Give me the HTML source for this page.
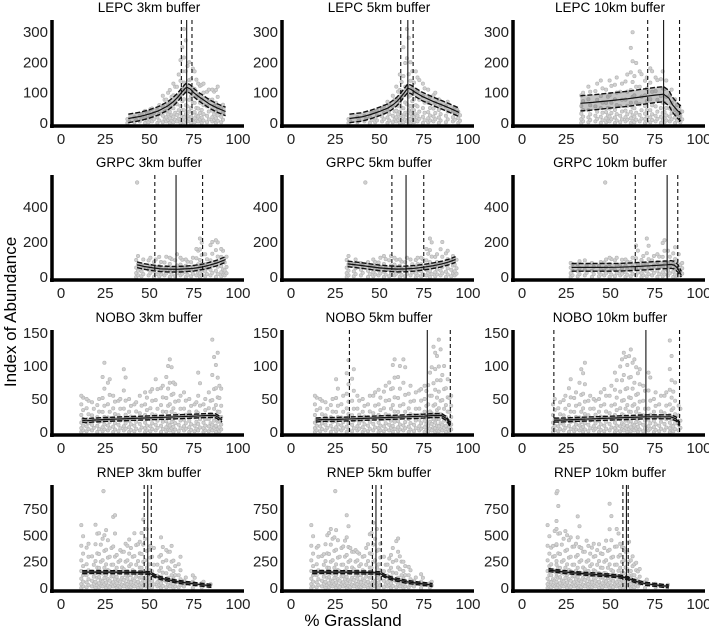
<!DOCTYPE html>
<html><head><meta charset="utf-8">
<style>
html,body{margin:0;padding:0;background:#fff;}
svg{display:block;font-family:"Liberation Sans",Arial,sans-serif;}
</style></head>
<body>
<svg id="chart" width="709" height="634" viewBox="0 0 709 634">
<text x="16" y="312" font-size="17" text-anchor="middle" transform="rotate(-90 16 312)">Index of Abundance</text>
<text x="353" y="626" font-size="17" text-anchor="middle">% Grassland</text>
</svg>
<script>
// ---- data ----
const species = ["LEPC","GRPC","NOBO","RNEP"];
const buffers = ["3km","5km","10km"];
const yTicks = [[0,100,200,300],[0,200,400],[0,50,100,150],[0,250,500,750]];
const xTicks = [0,25,50,75,100];
// point cloud extents: [x, upper y]
const clouds = [
 [[38,15],[42,20],[45,30],[48,40],[50,45],[52,50],[55,60],[58,90],[60,100],[62,110],[64,130],[66,160],[68,250],[70,310],[72,200],[74,180],[76,170],[78,130],[80,130],[83,110],[86,110],[88,120],[91,60]],
 [[33,15],[38,20],[42,25],[45,35],[48,40],[52,55],[55,70],[58,90],[60,120],[62,160],[64,250],[66,310],[68,200],[70,170],[72,150],[75,130],[78,110],[81,100],[84,80],[88,70],[92,50],[95,40]],
 [[34,100],[38,120],[42,130],[45,140],[48,110],[50,140],[53,150],[56,130],[59,160],[62,300],[64,200],[67,170],[70,150],[73,180],[76,150],[79,170],[81,140],[84,110],[87,80],[90,40]],
 [[43,120],[46,100],[50,110],[53,100],[56,120],[59,120],[62,110],[65,130],[68,110],[71,100],[74,110],[77,160],[79,220],[82,130],[85,200],[88,210],[91,160],[93,120]],
 [[32,120],[36,100],[40,80],[44,90],[47,100],[50,110],[53,120],[56,120],[59,110],[62,100],[65,110],[68,100],[71,110],[74,110],[77,160],[79,220],[82,130],[85,200],[88,150],[91,120],[93,100]],
 [[28,80],[32,90],[36,100],[40,80],[44,90],[47,100],[50,110],[53,110],[56,100],[59,100],[62,110],[65,180],[68,120],[71,220],[74,120],[77,130],[80,210],[83,150],[86,170],[88,130],[90,80]],
 [[12,55],[15,50],[18,45],[21,50],[24,105],[27,80],[30,55],[33,50],[36,95],[39,50],[42,45],[45,55],[48,60],[51,65],[54,80],[57,70],[60,100],[62,110],[64,75],[67,55],[70,60],[73,50],[76,45],[78,90],[81,50],[84,60],[86,140],[88,120],[90,70]],
 [[14,55],[17,50],[20,45],[23,50],[26,80],[29,55],[32,110],[35,95],[38,55],[41,50],[44,55],[47,60],[50,65],[53,70],[56,75],[58,110],[61,100],[64,110],[67,70],[70,60],[73,65],[76,70],[78,90],[80,130],[82,120],[84,140],[86,100],[88,80],[90,55]],
 [[18,50],[21,45],[24,55],[27,80],[30,60],[33,95],[35,105],[38,55],[41,50],[44,60],[47,65],[50,70],[53,90],[56,110],[58,120],[60,115],[62,125],[64,110],[66,95],[69,70],[72,90],[75,60],[78,55],[81,60],[84,140],[86,75],[89,40]],
 [[12,600],[15,420],[18,300],[20,600],[22,520],[24,500],[26,550],[28,380],[30,690],[32,320],[34,360],[36,420],[38,460],[40,380],[42,520],[44,440],[46,650],[48,560],[50,400],[52,380],[55,300],[57,480],[60,360],[62,400],[64,260],[67,300],[70,100],[75,120],[80,60],[84,40]],
 [[12,600],[15,400],[18,320],[20,500],[22,560],[24,480],[26,550],[28,380],[30,450],[32,690],[34,380],[36,360],[38,340],[40,300],[42,380],[44,510],[46,620],[48,560],[50,420],[53,300],[55,280],[57,380],[60,470],[62,300],[64,250],[67,200],[70,100],[74,130],[79,60]],
 [[15,600],[17,400],[19,560],[20,900],[22,520],[24,540],[26,500],[28,480],[30,420],[32,680],[34,380],[36,450],[38,400],[40,420],[42,360],[44,420],[46,380],[48,450],[50,800],[52,400],[54,560],[56,420],[58,380],[60,440],[62,300],[64,240],[66,180],[70,80],[76,40],[82,30]]
];
// fitted curve: x values and fit values
const fitX = [
 [38,45,50,55,60,63,66,68,70,71,73,75,78,80,84,88,93],
 [33,40,45,50,55,58,60,62,64,66,68,70,74,80,86,90,95],
 [33,40,50,60,65,70,75,80,83,85,88,90],
 [43,47,52,56,60,65,70,75,80,84,88,93],
 [32,38,44,50,55,60,65,70,75,80,85,89,93],
 [28,35,45,55,65,72,78,82,84,86,88,90],
 [12,14,18,25,35,45,55,65,75,83,87,89,91],
 [14,18,25,35,45,55,65,75,80,85,88,90],
 [18,22,30,40,50,60,70,80,84,87,89],
 [12,20,30,40,45,48,50,53,56,60,65,70,75,80,85],
 [12,20,30,40,45,48,50,53,56,60,65,70,75,80],
 [15,20,25,30,40,50,55,58,60,63,66,70,75,80,83]
];
const fitY = [
 [15,22,30,40,55,68,85,100,113,118,112,100,86,78,62,50,38],
 [15,20,28,38,50,62,72,85,100,115,110,102,88,72,58,48,35],
 [65,68,74,80,84,88,92,95,82,60,40,30],
 [70,60,52,47,45,44,46,50,58,68,80,100],
 [75,68,60,52,48,45,46,50,56,64,74,85,100],
 [55,55,55,56,60,64,68,70,72,68,50,10],
 [18,17,18,19,20,21,22,23,24,25,25,22,18],
 [18,19,19,20,21,22,23,24,25,25,20,10],
 [18,18,19,20,21,22,23,23,23,20,12],
 [150,152,150,148,146,145,140,115,95,80,62,50,40,30,20],
 [150,152,150,148,146,145,140,115,95,78,60,48,38,28],
 [170,160,150,142,130,118,110,100,90,70,55,40,30,20,15]
];
const bandHalf = [14,14,25,16,16,22,3,3,3,14,14,14];
const threshold = [71,66,80,65,65,82,null,77,70,49,48,59];
const ciLow = [68,62,71,53,57,64,null,33,18,47,46,57];
const ciHigh = [74,69,89,80,75,88,null,90,89,51,51,60];
const outliers = [[],[],[],[[43,540]],[[42,540]],[[47,540]],[],[],[],[[24,920]],[[25,920]],[[20,920]]];

// ---- layout ----
const svg = document.getElementById('chart');
const NS = 'http://www.w3.org/2000/svg';
const zeroY = [123,277,432,588];
const topY = [20,175,330,485];
const colX0 = [61,291,522];
const XS = 1.77;
const tickPx = [91/300, 70/400, 99/150, 79/750];
function mk(tag, attrs, parent){const e=document.createElementNS(NS,tag);for(const k in attrs)e.setAttribute(k,attrs[k]);(parent||svg).appendChild(e);return e;}
function pathFrom(xs, ys, sx, sy){return xs.map((x,i)=>(i?'L':'M')+sx(x).toFixed(1)+' '+sy(ys[i]).toFixed(1)).join(' ');}

for(let r=0;r<4;r++){
 for(let c=0;c<3;c++){
  const p=r*3+c;
  const sx=v=>colX0[c]+v*XS;
  const sy=v=>zeroY[r]-v*tickPx[r];
  const g=mk('g',{});
  
  
  const t=mk('text',{x:colX0[c]+88,y:topY[r]-8,'font-size':13.5,'text-anchor':'middle'},g);
  t.textContent=species[r]+' '+buffers[c]+' buffer';
  
  
  // points
  const pg=mk('g',{fill:'#d0d0d0',stroke:'#b4b4b4','stroke-width':0.6},g);
  
  
  clouds[p].forEach(([x,ym],i)=>{
   const yTop=sy(ym), y0=sy(0);
   let k=0, y=y0-(i%3)*0.8, step=1.8+(i%4)*0.35;
   const ratio=1.18+(i%3)*0.05;
   while(y>=yTop-0.5){
    const dx=((k%2)?0.9:-0.9);
    const cc=mk('circle',{cx:(sx(x)+dx).toFixed(1),cy:y.toFixed(1),r:1.7},pg);
    
    
    k++;
    y-=step; step*=ratio;
    if(y<yTop && y+step/ratio>yTop+1){y=yTop;}
   }
  });
  outliers[p].forEach(([x,y])=>{
   const cc=mk('circle',{cx:sx(x),cy:sy(y),r:1.8},pg);
   
   
  });
  // band
  const xs=fitX[p], ys=fitY[p], h=bandHalf[p];
  const up=ys.map(v=>v+h), lo=ys.map(v=>Math.max(0,v-h));
  let d=pathFrom(xs,up,sx,sy)+' '+xs.slice().reverse().map((x,i)=>'L'+sx(x).toFixed(1)+' '+sy(lo[lo.length-1-i]).toFixed(1)).join(' ')+'Z';
  const band=mk('path',{d:d,fill:'rgba(110,110,110,0.4)',stroke:'none'},g);
  
  
  const bu=mk('path',{d:pathFrom(xs,up,sx,sy),fill:'none',stroke:'#111','stroke-width':1.4,'stroke-dasharray':'5 2'},g);
  
  
  const bl=mk('path',{d:pathFrom(xs,lo,sx,sy),fill:'none',stroke:'#111','stroke-width':1.4,'stroke-dasharray':'5 2'},g);
  
  
  const fl=mk('path',{d:pathFrom(xs,ys,sx,sy),fill:'none',stroke:'#111','stroke-width':1.2},g);
  
  
  // vlines
  if(threshold[p]!==null){
   const vl=mk('line',{x1:sx(threshold[p]),x2:sx(threshold[p]),y1:topY[r],y2:zeroY[r]+2,stroke:'#111','stroke-width':1.1},g);
   
   
   [ciLow[p],ciHigh[p]].forEach(v=>{
    const dl=mk('line',{x1:sx(v),x2:sx(v),y1:topY[r],y2:zeroY[r]+2,stroke:'#111','stroke-width':1.1,'stroke-dasharray':'4 3'},g);
    
    
   });
  }
  // axes
  const ya=mk('line',{x1:colX0[c]-9,x2:colX0[c]-9,y1:topY[r],y2:zeroY[r]+5,stroke:'#000','stroke-width':3.5},g);
  
  
  const xa=mk('line',{x1:colX0[c]-11,x2:colX0[c]+183,y1:zeroY[r]+3,y2:zeroY[r]+3,stroke:'#000','stroke-width':3.5},g);
  
  
  yTicks[r].forEach(v=>{
   const tt=mk('text',{x:colX0[c]-13,y:sy(v)+5,'font-size':15,'text-anchor':'end',fill:'#222'},g);
   tt.textContent=v;
   
   
  });
  xTicks.forEach(v=>{
   const tt=mk('text',{x:sx(v),y:zeroY[r]+21,'font-size':15,'text-anchor':'middle',fill:'#222'},g);
   tt.textContent=v;
   
   
  });
 }
}
</script>
</body></html>
